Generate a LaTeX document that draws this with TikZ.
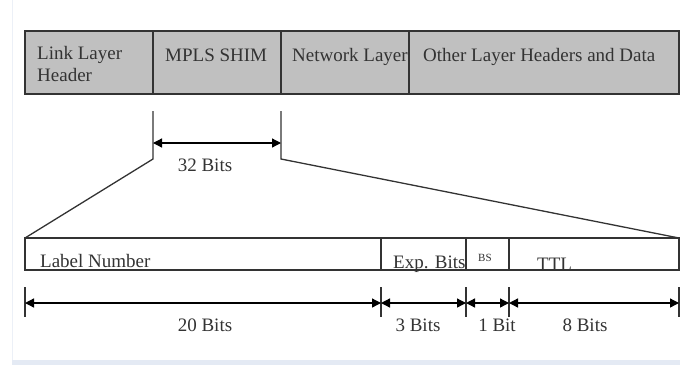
\documentclass[tikz,border=0pt]{standalone}
\usepackage{fontspec}
\setmainfont{Liberation Serif}
\usepackage{tikz}
\usetikzlibrary{arrows.meta, positioning, calc}

\definecolor{ink}{HTML}{333333}
\definecolor{shade}{HTML}{C0C0C0}
\definecolor{frame}{HTML}{E4EAF4}

\tikzset{
    field/.style={draw=ink, line width=1.4pt, rectangle, inner sep=0pt,
        outer sep=0pt, anchor=north west},
    txt/.style={text=ink, inner sep=0pt, font=\fontsize{19}{22}\selectfont},
    tick/.style={draw=ink, line width=1.3pt},
    dim/.style={draw=black, line width=1.3pt,
        {Triangle[length=9pt,width=9pt]}-{Triangle[length=9pt,width=9pt]}}
}

\begin{document}
\begin{tikzpicture}[x=1pt, y=-1pt]
    \useasboundingbox (0,0) rectangle (680,365);

    % Page edge
    \fill[frame] (12,360) rectangle (680,365);
    \draw[frame!70, line width=1pt] (12,0) -- (12,360);

    % Packet layout
    \foreach \name/\xa/\xb in {link/25/153, shim/153/281, net/281/409, other/409/679} {
        \node[field, fill=shade, minimum width={(\xb-\xa)*1pt}, minimum height=63pt]
            (\name) at (\xa,31) {};
    }
    \node[txt, anchor=north west, align=left] (linkTxt) at (37,46) {Link Layer\\Header};
    \node[txt, anchor=base west] (shimTxt) at (165,61) {MPLS SHIM};
    \node[txt, anchor=base west] (netTxt) at (292,61) {Network Layer};
    \node[txt, anchor=base west] (otherTxt) at (423,61) {Other Layer Headers and Data};

    % Shim header fields
    \foreach \name/\xa/\xb in {label/25/381, exp/381/466, bs/466/509, ttl/509/679} {
        \node[field, fill=white, minimum width={(\xb-\xa)*1pt}, minimum height=32pt]
            (\name) at (\xa,238) {};
    }
    \node[txt, anchor=base west] (labelTxt) at (40,267) {Label Number};
    \node[txt, anchor=base west] (expTxt) at (393,268) {Exp. Bits};
    \node[txt, anchor=base west, font=\fontsize{11}{13}\selectfont] (bsTxt) at (478,261) {BS};
    \node[txt, anchor=base west] (ttlTxt) at (537,270) {TTL};

    % Zoom lines from the shim down to its fields
    \coordinate (sa) at (153,111);
    \coordinate (sb) at (281,111);
    \coordinate (sa') at (153,159);
    \coordinate (sb') at (281,159);
    \draw[tick] (sa) -- (sa') -- (label.north west);
    \draw[tick] (sb) -- (sb') -- (ttl.north east);

    % 32 bit width
    \coordinate (wa) at (153,143);
    \coordinate (wb) at (281,143);
    \draw[dim] (wa) -- (wb);
    \node[txt, anchor=base] (shimBits) at (205,171) {32 Bits};

    % Field widths
    \foreach \x [count=\i] in {25,381,466,509,679} {
        \draw[tick] (\x,287) -- (\x,317);
        \coordinate (m\i) at (\x,303);
    }
    \draw[dim] (m1) -- (m2);
    \draw[dim] (m2) -- (m3);
    \draw[dim] (m3) -- (m4);
    \draw[dim] (m4) -- (m5);
    \node[txt, anchor=base] (labelBits) at (205,331) {20 Bits};
    \node[txt, anchor=base] (expBits) at (418,331) {3 Bits};
    \node[txt, anchor=base] (bsBits) at (497,331) {1 Bit};
    \node[txt, anchor=base] (ttlBits) at (585,331) {8 Bits};
\end{tikzpicture}
\end{document}
